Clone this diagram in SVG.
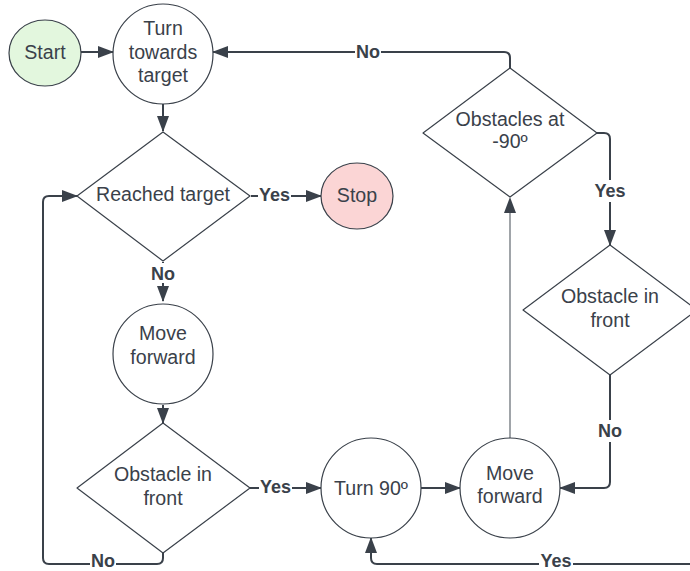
<svg xmlns="http://www.w3.org/2000/svg" width="690" height="571" viewBox="0 0 690 571">
  <defs>
    <marker id="arrow" markerUnits="userSpaceOnUse" markerWidth="16" markerHeight="12" refX="15" refY="6" orient="auto">
      <path d="M0,0 L16,6 L0,12 z" fill="#3a414a"/>
    </marker>
    <style>
      .shape { fill: #ffffff; stroke: #3a414a; stroke-width: 1.2; }
      .start { fill: #e3f7de; }
      .stop { fill: #fbd5d5; }
      .txt { font-family: "Liberation Sans", Arial, sans-serif; font-size: 19.6px; fill: #3a414a; text-anchor: middle; }
      .lbl { font-family: "Liberation Sans", Arial, sans-serif; font-size: 18px; font-weight: bold; fill: #3a414a; text-anchor: middle; }
      .conn { fill: none; stroke: #3a414a; stroke-width: 2; }
      .thin { fill: none; stroke: #6d737a; stroke-width: 1.3; }
    </style>
  </defs>
  <rect width="690" height="571" fill="#ffffff"/>

  <!-- connectors -->
  <g id="connectors">
    <path class="conn" d="M81,52 L113,52" marker-end="url(#arrow)"/>
    <path class="conn" d="M163,103 L163,131" marker-end="url(#arrow)"/>
    <path class="conn" d="M251,196 L321,196" marker-end="url(#arrow)"/>
    <path class="conn" d="M163,262 L163,301" marker-end="url(#arrow)"/>
    <path class="conn" d="M163,405 L163,423" marker-end="url(#arrow)"/>
    <path class="conn" d="M250,488 L321,488" marker-end="url(#arrow)"/>
    <path class="conn" d="M421,488 L460,488" marker-end="url(#arrow)"/>
    <!-- No loop back to Reached target -->
    <path class="conn" d="M163,553 L163,558 Q163,564 157,564 L49,564 Q43,564 43,558 L43,202 Q43,196 49,196 L77,196" marker-end="url(#arrow)"/>
    <!-- No back to Turn towards target -->
    <path class="conn" d="M510,68 L510,58 Q510,52 504,52 L213,52" marker-end="url(#arrow)"/>
    <!-- Yes down to right Obstacle in front -->
    <path class="conn" d="M597,133 L604,133 Q610,133 610,139 L610,245" marker-end="url(#arrow)"/>
    <!-- No to Move forward -->
    <path class="conn" d="M610,375 L610,482 Q610,488 604,488 L560,488" marker-end="url(#arrow)"/>
    <!-- Yes back to Turn 90 -->
    <path class="conn" d="M692,564 L377,564 Q371,564 371,558 L371,538" marker-end="url(#arrow)"/>
    <!-- Move forward up to Obstacles at -90 -->
    <path class="thin" d="M510,438 L510,212"/>
    <path d="M510,197 L516,213 L504,213 z" fill="#3a414a"/>

    <!-- labels -->
    <rect x="258" y="185" width="33" height="20" fill="#ffffff"/>
    <text class="lbl" x="274.5" y="201">Yes</text>
    <rect x="150" y="263" width="26" height="20" fill="#ffffff"/>
    <text class="lbl" x="163" y="280">No</text>
    <rect x="259" y="477" width="33" height="20" fill="#ffffff"/>
    <text class="lbl" x="275.5" y="493">Yes</text>
    <rect x="90" y="553" width="26" height="18" fill="#ffffff"/>
    <text class="lbl" x="103" y="567">No</text>
    <rect x="355" y="41" width="26" height="20" fill="#ffffff"/>
    <text class="lbl" x="368" y="58">No</text>
    <rect x="593" y="180" width="34" height="22" fill="#ffffff"/>
    <text class="lbl" x="610" y="197">Yes</text>
    <rect x="597" y="420" width="26" height="22" fill="#ffffff"/>
    <text class="lbl" x="610" y="437">No</text>
    <rect x="539" y="553" width="34" height="18" fill="#ffffff"/>
    <text class="lbl" x="556" y="567">Yes</text>
  </g>

  <g id="start">
    <ellipse class="shape start" cx="45" cy="53" rx="36" ry="33"/>
    <text class="txt" x="45" y="59">Start</text>
  </g>

  <g id="turn-towards-target">
    <circle class="shape" cx="163" cy="54" r="50"/>
    <text class="txt" x="163" y="35">Turn</text>
    <text class="txt" x="163" y="58.5">towards</text>
    <text class="txt" x="163" y="82">target</text>
  </g>

  <g id="reached-target">
    <path class="shape" d="M163,132 L250,196 L163,261 L77,196 Z" stroke-linejoin="round"/>
    <text class="txt" x="163" y="201">Reached target</text>
  </g>

  <g id="stop">
    <ellipse class="shape stop" cx="357" cy="196" rx="36" ry="33"/>
    <text class="txt" x="357" y="202">Stop</text>
  </g>

  <g id="move-forward-1">
    <circle class="shape" cx="163" cy="354" r="50"/>
    <text class="txt" x="163" y="340">Move</text>
    <text class="txt" x="163" y="364">forward</text>
  </g>

  <g id="obstacle-in-front-1">
    <path class="shape" d="M163,423 L250,488 L163,553 L77,488 Z" stroke-linejoin="round"/>
    <text class="txt" x="163" y="481">Obstacle in</text>
    <text class="txt" x="163" y="505">front</text>
  </g>

  <g id="turn-90">
    <circle class="shape" cx="371" cy="488" r="50"/>
    <text class="txt" x="371" y="495">Turn 90º</text>
  </g>

  <g id="move-forward-2">
    <circle class="shape" cx="510" cy="488" r="50"/>
    <text class="txt" x="510" y="480">Move</text>
    <text class="txt" x="510" y="503">forward</text>
  </g>

  <g id="obstacles-at-minus-90">
    <path class="shape" d="M510,68 L597,133 L510,197 L423,133 Z" stroke-linejoin="round"/>
    <text class="txt" x="510" y="126">Obstacles at</text>
    <text class="txt" x="510" y="148">-90º</text>
  </g>

  <g id="obstacle-in-front-2">
    <path class="shape" d="M610,245 L697,310 L610,375 L523,310 Z" stroke-linejoin="round"/>
    <text class="txt" x="610" y="303">Obstacle in</text>
    <text class="txt" x="610" y="327">front</text>
  </g>
</svg>
